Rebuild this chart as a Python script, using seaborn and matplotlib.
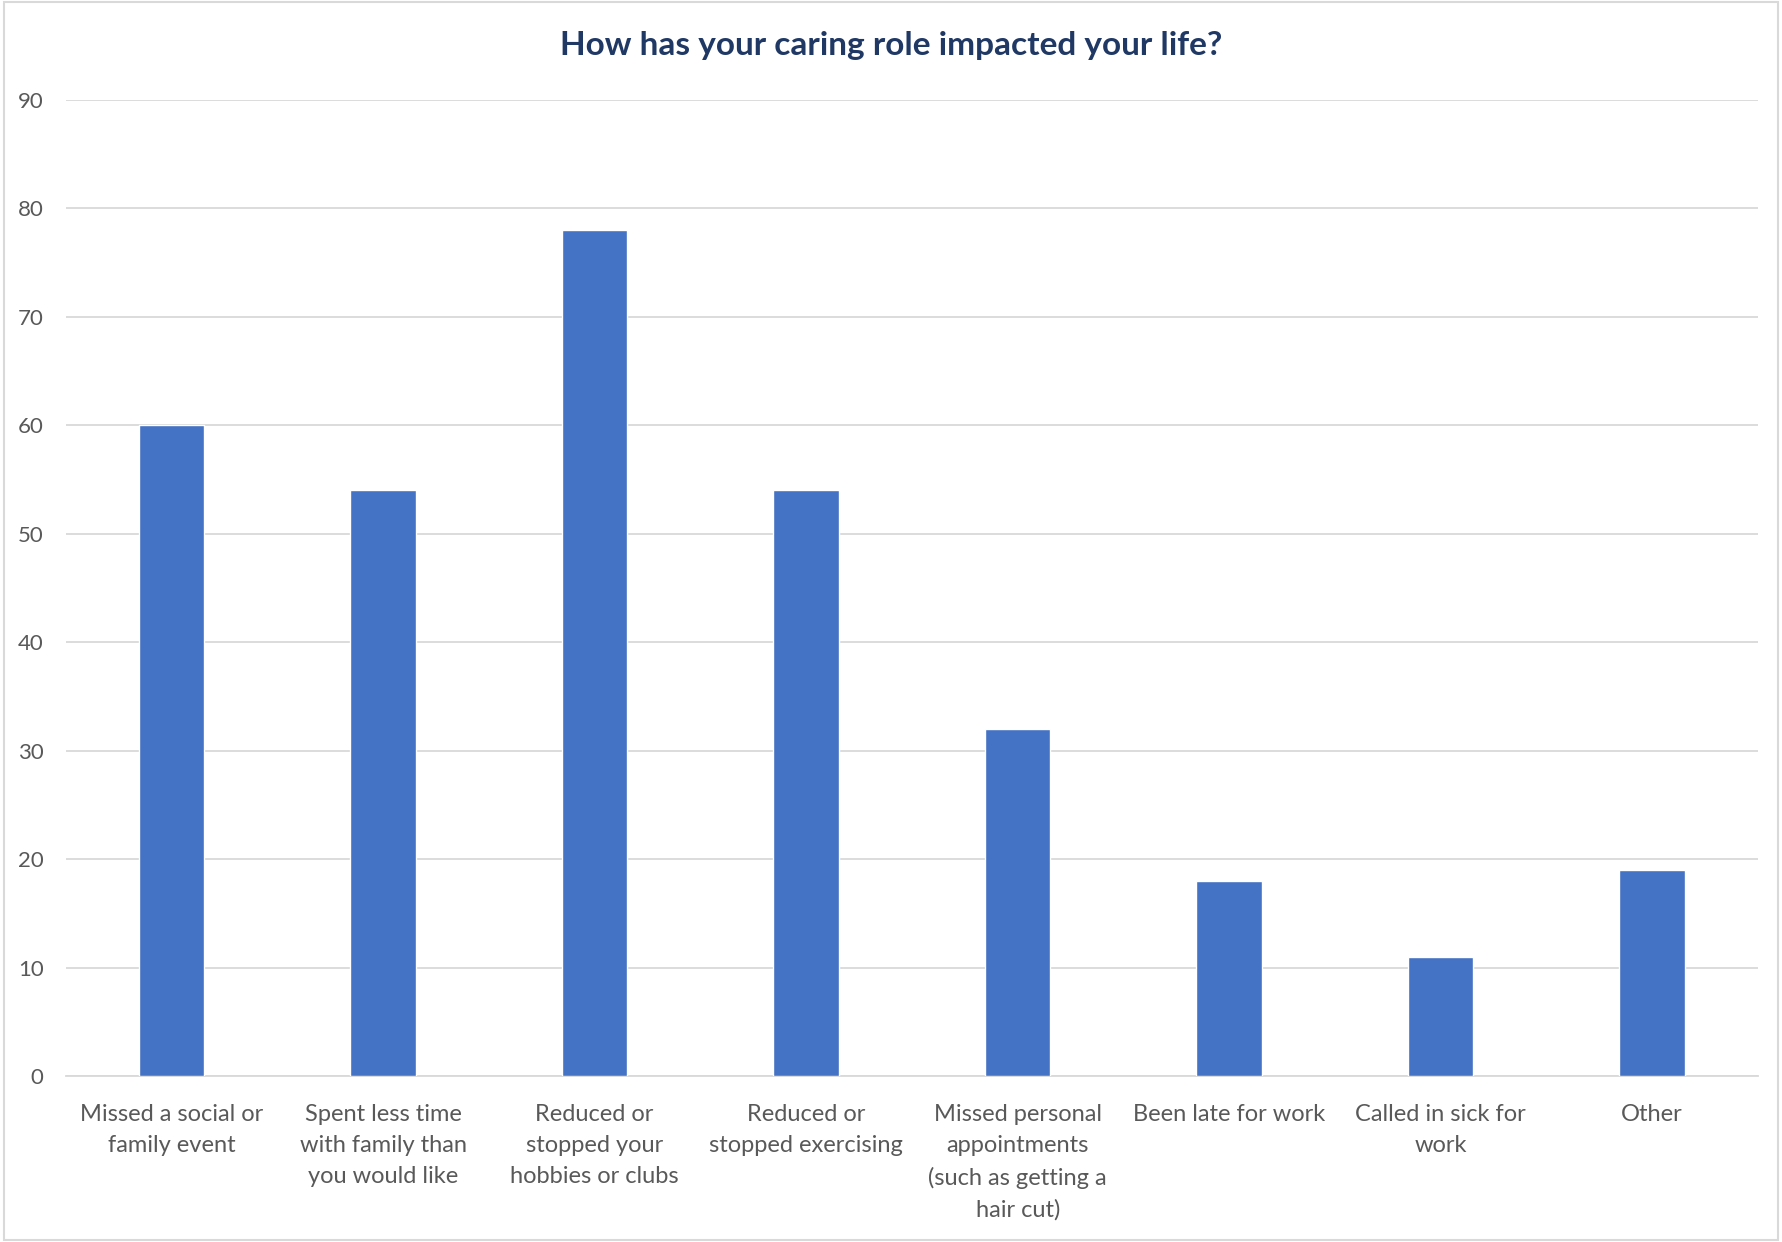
import matplotlib
matplotlib.use("Agg")
import matplotlib.pyplot as plt
import seaborn as sns
import pandas as pd

# Data
categories = [
    "Missed a social or\nfamily event",
    "Spent less time\nwith family than\nyou would like",
    "Reduced or\nstopped your\nhobbies or clubs",
    "Reduced or\nstopped exercising",
    "Missed personal\nappointments\n(such as getting a\nhair cut)",
    "Been late for work",
    "Called in sick for\nwork",
    "Other",
]
counts = [60, 54, 78, 54, 32, 18, 11, 19]
y_ticks = [0, 10, 20, 30, 40, 50, 60, 70, 80, 90]

BAR_COLOR = "#4472C4"
TEXT_GRAY = "#595959"
GRID_GRAY = "#D9D9D9"
TITLE_COLOR = "#1F3864"

sns.set_style("white")
plt.rcParams['font.family'] = ['Lato', 'DejaVu Sans']

df = pd.DataFrame({"category": categories, "count": counts})

fig = plt.figure(figsize=(17.82, 12.42), dpi=100)
ax = fig.add_axes([0.037, 0.1337, 0.9495, 0.7858])

sns.barplot(data=df, x="category", y="count", color=BAR_COLOR,
            width=0.31, saturation=1, ax=ax, zorder=3)

ax.set_ylim(0, 90)
ax.set_yticks(y_ticks)
ax.set_xlim(-0.5, len(categories) - 0.5)
ax.yaxis.grid(True, color=GRID_GRAY, linewidth=1.3, zorder=0)
ax.set_axisbelow(True)
for side in ["top", "right", "left"]:
    ax.spines[side].set_visible(False)
ax.spines["bottom"].set_color(GRID_GRAY)
ax.spines["bottom"].set_linewidth(1.3)

ax.set_xlabel("")
ax.set_ylabel("")
ax.tick_params(axis="both", length=0)
ax.tick_params(axis="y", labelsize=16, labelcolor=TEXT_GRAY, pad=16)
ax.tick_params(axis="x", labelsize=17, labelcolor=TEXT_GRAY, pad=20)
for lbl in ax.get_xticklabels():
    lbl.set_linespacing(1.6)
    lbl.set_verticalalignment("top")

fig.text(0.5, 0.963, "How has your caring role impacted your life?",
         ha="center", va="center", fontsize=24, fontweight="bold",
         color=TITLE_COLOR)

# light frame around the chart area, as in the reference
frame = plt.Rectangle((0.002, 0.002), 0.996, 0.996, transform=fig.transFigure,
                      fill=False, edgecolor="#D9D9D9", linewidth=1.5)
fig.patches.append(frame)

fig.savefig("out.png", dpi=100)
